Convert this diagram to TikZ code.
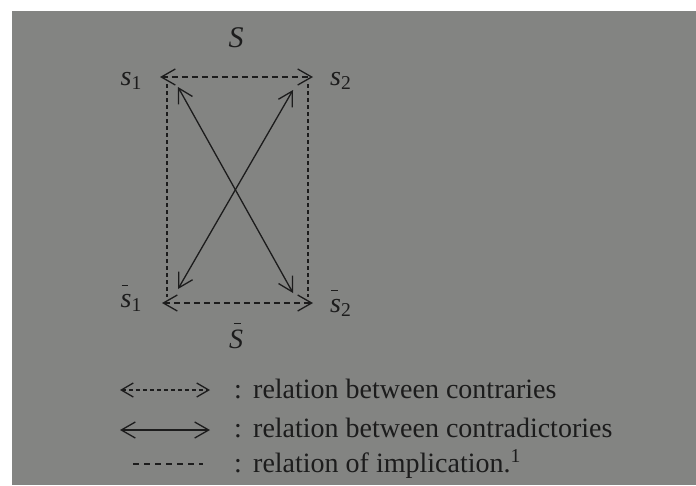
\documentclass[tikz,border=0pt]{standalone}
\usepackage{fontspec}
\setmainfont{Liberation Serif}
\usetikzlibrary{arrows.meta}
\definecolor{paper}{RGB}{131,132,130}
\definecolor{ink}{RGB}{28,28,28}
\newcommand\smallbar[1]{\rlap{\hspace{0.04em}\rule[0.74em]{0.24em}{0.05em}}\textit{#1}}
\newcommand\bigbar[1]{\rlap{\hspace{0.17em}\rule[0.86em]{0.25em}{0.05em}}\textit{#1}}
\tikzset{
  chev/.tip={Straight Barb[length=14pt,width=16pt,line width=1.3pt]},
  chevsmall/.tip={Straight Barb[length=12pt,width=14pt,line width=1.3pt]},
  lbl/.style={inner sep=0pt, anchor=base, text=ink, font=\fontsize{28}{30}\selectfont},
  contrary/.style={draw=ink, line width=1.3pt, dash pattern=on 6pt off 4pt, {chev}-{chev}},
  contradict/.style={draw=ink, line width=1.3pt, {chev}-{chev}},
  implic/.style={draw=ink, line width=1.6pt, dash pattern=on 4pt off 3pt},
}
\begin{document}
\begin{tikzpicture}[x=1pt,y=-1pt]
\useasboundingbox (0,0) rectangle (696,485);
\fill[white] (0,0) rectangle (696,485);
\fill[paper] (12,11) rectangle (696,485);

% labels
\node[lbl, font=\fontsize{30}{32}\selectfont] (S) at (236,47) {\textit{S}};
\node[lbl] (Sbar) at (236,348) {\bigbar{S}};
\node[lbl, anchor=base east] (s1) at (142,85) {\textit{s}\textsubscript{1}};
\node[lbl, anchor=base west] (s2) at (330,85) {\textit{s}\textsubscript{2}};
\node[lbl, anchor=base east] (s1b) at (142,307) {\smallbar{s}\textsubscript{1}};
\node[lbl, anchor=base west] (s2b) at (330,312) {\smallbar{s}\textsubscript{2}};

% endpoints
\coordinate (a1) at (160,77);  \coordinate (a2) at (313,77);
\coordinate (b1) at (162,303); \coordinate (b2) at (313,303);
\coordinate (v1t) at (167,84); \coordinate (v1b) at (167,297);
\coordinate (v2t) at (308,84); \coordinate (v2b) at (308,297);
\coordinate (d1) at (178,87);  \coordinate (d2) at (293,293);
\coordinate (d3) at (293,90);  \coordinate (d4) at (178,289);

\draw[contrary] (a1) -- (a2);
\draw[contrary] (b1) -- (b2);
\draw[implic] (v1t) -- (v1b);
\draw[implic] (v2t) -- (v2b);
\draw[contradict] (d1) -- (d2);
\draw[contradict] (d3) -- (d4);

% legend
\coordinate (l1a) at (120,390); \coordinate (l1b) at (210,390);
\coordinate (l2a) at (120,430); \coordinate (l2b) at (210,430);
\coordinate (l3a) at (133,464); \coordinate (l3b) at (203,464);
\draw[draw=ink, line width=1.3pt, dash pattern=on 4pt off 3pt, {chevsmall}-{chevsmall}] (l1a) -- (l1b);
\draw[contradict] (l2a) -- (l2b);
\draw[implic, dash pattern=on 6pt off 5pt] (l3a) -- (l3b);

\node[lbl] (c1) at (238,398) {:};
\node[lbl] (c2) at (238,437) {:};
\node[lbl] (c3) at (238,472) {:};
\node[lbl, anchor=base west] (t1) at (253,398) {relation between contraries};
\node[lbl, anchor=base west] (t2) at (253,437) {relation between contradictories};
\node[lbl, anchor=base west] (t3) at (253,472) {relation of implication.\textsuperscript{1}};
\end{tikzpicture}
\end{document}
